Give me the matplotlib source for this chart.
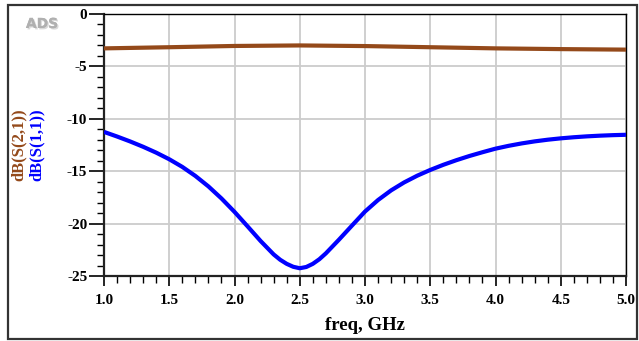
import matplotlib
matplotlib.use("Agg")
import matplotlib.pyplot as plt
from matplotlib.ticker import MultipleLocator, FormatStrFormatter
from matplotlib.patches import Rectangle
import matplotlib.patheffects as pe

# Frequency sweep (GHz) and simulated S-parameters (dB)
freq_s11 = [1.0, 1.1, 1.2, 1.3, 1.4, 1.5, 1.6, 1.7, 1.8, 1.9,
            2.0, 2.1, 2.2, 2.3, 2.35, 2.4, 2.45, 2.5, 2.55, 2.6, 2.65, 2.7,
            2.8, 2.9, 3.0, 3.1, 3.2, 3.3, 3.4, 3.5, 3.6, 3.7, 3.8, 3.9,
            4.0, 4.1, 4.2, 4.3, 4.4, 4.5, 4.6, 4.7, 4.8, 4.9, 5.0]
db_s11 = [-11.25, -11.69, -12.16, -12.67, -13.23, -13.86, -14.59, -15.45, -16.45, -17.6,
          -18.88, -20.26, -21.66, -22.94, -23.45, -23.84, -24.12, -24.26, -24.14, -23.84, -23.4, -22.84,
          -21.54, -20.19, -18.85, -17.75, -16.83, -16.07, -15.43, -14.88, -14.39, -13.95, -13.55, -13.19,
          -12.85, -12.58, -12.35, -12.155, -11.995, -11.865, -11.76, -11.675, -11.61, -11.56, -11.525]

freq_s21 = [1.0, 1.5, 2.0, 2.5, 3.0, 3.5, 4.0, 4.5, 5.0]
db_s21 = [-3.28, -3.17, -3.05, -3.0, -3.06, -3.17, -3.28, -3.35, -3.4]

x_ticks = [1.0, 1.5, 2.0, 2.5, 3.0, 3.5, 4.0, 4.5, 5.0]
y_ticks = [-25, -20, -15, -10, -5, 0]

BROWN = "#94491a"
BLUE = "#0000ff"

W, H = 639, 341
fig = plt.figure(figsize=(W / 100, H / 100), dpi=100)
fig.patch.set_facecolor("white")

# outer frame
fig.patches.append(Rectangle((8 / W, 1 - 339 / H), (637 - 8) / W, (339 - 5) / H,
                             transform=fig.transFigure, fill=False,
                             edgecolor="#333333", linewidth=1.6, zorder=0))

ax = fig.add_axes([104 / W, 1 - 276 / H, (626 - 104) / W, (276 - 14) / H])

ax.plot(freq_s21, db_s21, color=BROWN, lw=3.0, solid_capstyle="butt",
        solid_joinstyle="round", zorder=3)
ax.plot(freq_s11, db_s11, color=BLUE, lw=3.0, solid_capstyle="butt",
        solid_joinstyle="round", zorder=3)

ax.set_xlim(1.0, 5.0)
ax.set_ylim(-25, 0)
ax.set_xticks(x_ticks)
ax.set_yticks(y_ticks)
ax.xaxis.set_minor_locator(MultipleLocator(0.1))
ax.yaxis.set_minor_locator(MultipleLocator(1))
ax.xaxis.set_major_formatter(FormatStrFormatter("%.1f"))
ax.yaxis.set_major_formatter(FormatStrFormatter("%d"))

ax.grid(True, which="major", color="#cccccc", lw=1.3, zorder=0)
ax.set_axisbelow(True)

for side in ("top", "right"):
    ax.spines[side].set_linewidth(1.0)
    ax.spines[side].set_color("black")
for side in ("left", "bottom"):
    ax.spines[side].set_linewidth(1.6)
    ax.spines[side].set_color("#222222")

ax.tick_params(axis="y", which="major", direction="out", length=11, width=1.2, pad=1)
ax.tick_params(axis="y", which="minor", direction="out", length=5, width=1.0)
ax.tick_params(axis="x", which="major", direction="out", length=7, width=1.2, pad=6)
ax.tick_params(axis="x", which="minor", direction="out", length=5, width=1.0)

for lab in ax.get_xticklabels() + ax.get_yticklabels():
    lab.set_fontfamily("Liberation Serif")
    lab.set_fontweight("bold")
    lab.set_fontsize(11)

fig.text(365 / W, 1 - 325 / H, "freq, GHz", ha="center", va="center",
         family="Liberation Serif", weight="bold", size=13.5)

fig.text(19 / W, 1 - 145 / H, "dB(S(2,1))", rotation=90, ha="center", va="center",
         family="Liberation Serif", weight="bold", size=12, color=BROWN)
fig.text(37 / W, 1 - 145 / H, "dB(S(1,1))", rotation=90, ha="center", va="center",
         family="Liberation Serif", weight="bold", size=12, color=BLUE)

fig.text(42 / W, 1 - 24 / H, "ADS", ha="center", va="center",
         family="DejaVu Sans", weight="bold", size=10,
         color="#b0b0b0",
         path_effects=[pe.withSimplePatchShadow(offset=(1, -1), shadow_rgbFace="#d0d0d0", alpha=0.8),
                       pe.Normal()])

fig.savefig("out.png", dpi=100)
